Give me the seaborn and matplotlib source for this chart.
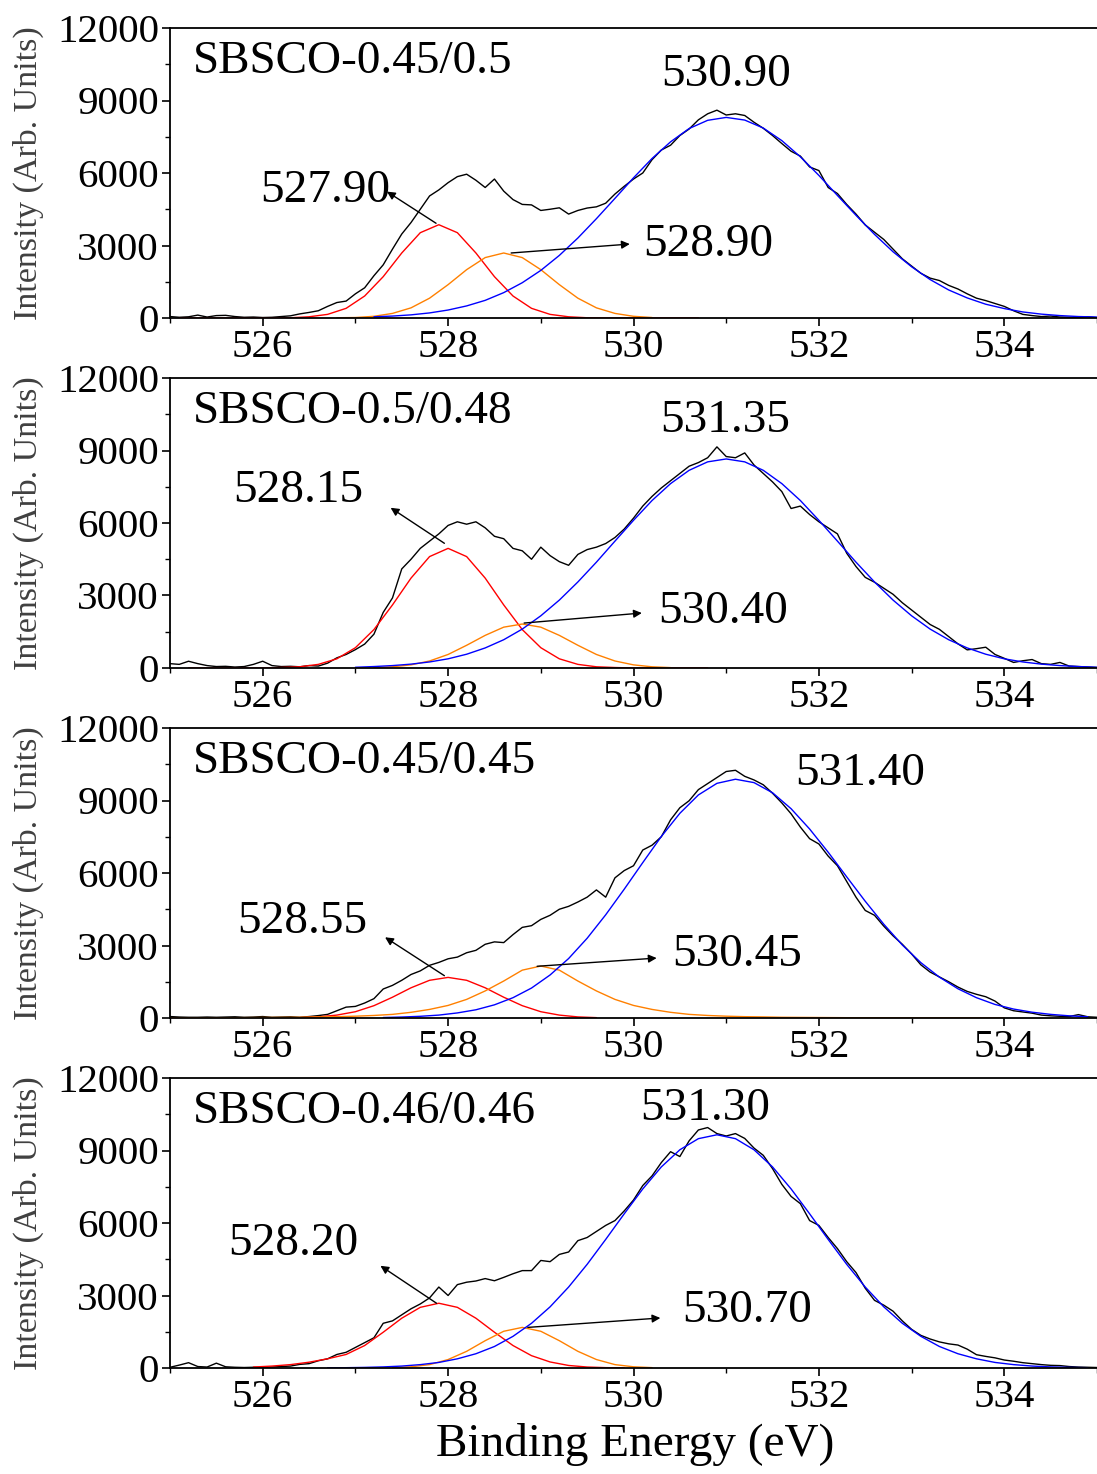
import matplotlib
matplotlib.use('Agg')
import matplotlib.pyplot as plt
import numpy as np
import seaborn as sns
from matplotlib.ticker import MultipleLocator

sns.set_theme(style='ticks')
plt.rcParams['font.family'] = ['Liberation Serif', 'DejaVu Serif']
plt.rcParams['text.color'] = 'black'
plt.rcParams['xtick.color'] = 'black'
plt.rcParams['ytick.color'] = 'black'

# O 1s spectra, 525.0 ... 535.0 eV every 0.1 eV
energy = np.round(np.arange(525.0, 535.05, 0.1), 1)

raw_1 = [60, 30, 50, 120, 40, 100, 110, 60, 30, 40,
         20, 30, 60, 90, 170, 230, 300, 480, 640, 700,
         1000, 1250, 1750, 2200, 2850, 3475, 3950, 4500, 5050, 5300,
         5600, 5850, 5950, 5700, 5400, 5750, 5250, 4900, 4700, 4680,
         4450, 4500, 4560, 4300, 4450, 4550, 4600, 4750, 5130, 5450,
         5750, 6000, 6550, 6950, 7150, 7550, 7820, 8200, 8450, 8600,
         8400, 8450, 8380, 8100, 7850, 7550, 7220, 6900, 6700, 6250,
         6100, 5400, 5150, 4700, 4300, 3850, 3550, 3250, 2850, 2450,
         2150, 1850, 1650, 1550, 1350, 1200, 1000, 820, 720, 600,
         480, 300, 150, 100, 60, 80, 40, 30, 20, 50,
         10]
raw_2 = [180, 150, 280, 180, 100, 60, 70, 40, 60, 150,
         280, 100, 60, 70, 50, 100, 80, 200, 420, 560,
         760, 990, 1400, 2300, 2900, 4100, 4500, 4950, 5250, 5550,
         5900, 6050, 5950, 6050, 5800, 5450, 5350, 4950, 4850, 4500,
         5000, 4650, 4400, 4250, 4700, 4900, 5000, 5150, 5400, 5750,
         6200, 6700, 7100, 7450, 7750, 8050, 8350, 8500, 8700, 9150,
         8750, 8700, 8900, 8400, 8050, 7700, 7300, 6600, 6700, 6350,
         6050, 5800, 5550, 4750, 4200, 3750, 3550, 3300, 3050, 2700,
         2400, 2100, 1800, 1600, 1300, 1000, 750, 800, 860, 560,
         400, 230, 300, 350, 180, 150, 230, 80, 60, 40,
         20]
raw_3 = [60, 40, 30, 30, 40, 30, 40, 50, 30, 40,
         60, 30, 40, 50, 30, 60, 100, 150, 300, 450,
         480, 620, 800, 1200, 1350, 1560, 1800, 1950, 2180, 2300,
         2450, 2520, 2700, 2800, 3050, 3150, 3120, 3450, 3750, 3820,
         4080, 4250, 4500, 4620, 4800, 5000, 5300, 5000, 5800, 6100,
         6300, 6950, 7150, 7500, 8200, 8700, 8990, 9450, 9700, 9950,
         10200, 10250, 10000, 9850, 9650, 9300, 8900, 8450, 7900, 7420,
         7200, 6700, 6300, 5650, 5000, 4450, 4250, 3800, 3400, 3050,
         2650, 2200, 1900, 1700, 1500, 1280, 1100, 980, 880, 700,
         420, 300, 250, 200, 120, 90, 70, 60, 140, 50,
         30]
raw_4 = [30, 120, 220, 60, 40, 200, 50, 30, 20, 30,
         20, 40, 60, 80, 150, 180, 300, 380, 560, 650,
         850, 1050, 1250, 1850, 1950, 2200, 2450, 2650, 2900, 3350,
         3000, 3450, 3550, 3600, 3700, 3610, 3750, 3900, 4030, 4030,
         4450, 4400, 4700, 4800, 5270, 5400, 5650, 5900, 6100, 6500,
         6950, 7550, 7950, 8500, 8950, 8750, 9400, 9850, 9950, 9700,
         9600, 9700, 9500, 9100, 8800, 8250, 7600, 7100, 6800, 6100,
         5900, 5400, 4940, 4400, 3950, 3300, 2800, 2600, 2350, 1950,
         1600, 1350, 1200, 1080, 1000, 950, 780, 550, 480, 420,
         330, 280, 220, 180, 140, 110, 100, 60, 40, 30,
         20]

# fitted components: first energy, then values every 0.2 eV
red_1_start = 525.1
red_1 = [0, 0, 0, 0, 0, 0, 10, 50, 150, 400, 910, 1710, 2690, 3530, 3860,
         3530, 2690, 1710, 910, 400, 150, 50, 10, 0, 0, 0, 0, 0, 0]
orange_1_start = 526.8
orange_1 = [10, 20, 70, 190, 420, 820, 1380, 2000, 2500, 2690,
            2500, 2000, 1380, 820, 420, 190, 70, 20]
blue_1_start = 527.2
blue_1 = [50, 80, 130, 210, 330, 500, 730, 1050, 1460, 1970, 2590, 3310, 4110,
          4950, 5800, 6600, 7290, 7840, 8180, 8300, 8190, 7860, 7340, 6670,
          5900, 5070, 4250, 3460, 2740, 2120, 1590, 1160, 830, 570, 390, 250,
          160, 100, 60, 40]

red_2_start = 525.2
red_2 = [0, 0, 0, 0, 0, 20, 50, 150, 380, 840, 1590, 2610, 3720, 4610, 4950,
         4610, 3720, 2610, 1590, 840, 380, 150, 50, 20, 0, 0, 0, 0, 0]
orange_2_start = 527.2
orange_2 = [16, 50, 130, 290, 560, 940, 1350, 1690, 1820,
            1690, 1350, 940, 560, 290, 130, 50, 16]
blue_2_start = 527.0
blue_2 = [30, 60, 100, 160, 250, 380, 570, 830, 1170, 1610, 2160, 2810, 3560,
          4380, 5250, 6110, 6930, 7630, 8180, 8530, 8650, 8530, 8180, 7630,
          6930, 6110, 5250, 4380, 3560, 2810, 2160, 1610, 1170, 830, 570, 380,
          250, 160, 100, 60, 30]

red_3_start = 526.4
red_3 = [15, 45, 120, 260, 510, 860, 1250, 1560, 1680,
         1560, 1250, 860, 510, 260, 120, 45, 15]
orange_3_start = 525.0
orange_3 = [5, 5, 5, 10, 15, 20, 25, 30, 45, 55, 75, 105, 150, 235, 355, 520,
            770, 1120, 1530, 1980, 2150, 1980, 1530, 1120, 770, 520, 355, 235,
            150, 105, 75, 55, 45, 30, 25, 20, 15, 10, 10, 5, 5, 5, 5, 5, 5, 5]
blue_3_start = 527.3
blue_3 = [20, 40, 70, 120, 210, 340, 545, 840, 1240, 1780, 2460, 3300, 4270,
          5330, 6430, 7510, 8470, 9230, 9710, 9880, 9740, 9320, 8660, 7820,
          6860, 5840, 4830, 3880, 3020, 2290, 1690, 1210, 840, 560, 370, 240,
          150, 90, 50]

red_4_start = 525.9
red_4 = [40, 80, 140, 240, 380, 560, 930, 1480, 2060, 2510, 2680,
         2510, 2060, 1480, 930, 510, 250, 105, 40, 15, 5]
orange_4_start = 527.4
orange_4 = [15, 50, 140, 350, 690, 1130, 1520, 1680,
            1520, 1130, 690, 350, 140, 50, 15]
blue_4_start = 526.7
blue_4 = [7, 13, 25, 45, 80, 140, 230, 380, 590, 890, 1310, 1850, 2530, 3350,
          4290, 5320, 6380, 7410, 8320, 9030, 9490, 9650, 9490, 9030, 8320,
          7410, 6380, 5320, 4290, 3350, 2530, 1850, 1310, 890, 590, 380, 230,
          140, 80, 45, 25, 13]

samples = ['SBSCO-0.45/0.5', 'SBSCO-0.5/0.48', 'SBSCO-0.45/0.45', 'SBSCO-0.46/0.46']

main_text = ['530.90', '531.35', '531.40', '531.30']
main_xy = [(531.0, 10060), (530.99, 10220), (532.45, 10120), (530.77, 10720)]

low_text = ['527.90', '528.15', '528.55', '528.20']
low_xy = [(526.67, 5250), (526.38, 7330), (526.43, 4000), (526.33, 5130)]
low_tail = [(527.87, 3920), (527.96, 5160), (527.96, 1750), (527.875, 2680)]
low_head = [(527.34, 5230), (527.38, 6630), (527.32, 3340), (527.27, 4230)]

mid_text = ['528.90', '530.40', '530.45', '530.70']
mid_xy = [(530.81, 3020), (530.97, 2320), (531.12, 2610), (531.23, 2380)]
mid_tail = [(528.68, 2690), (528.82, 1860), (528.96, 2140), (528.86, 1680)]
mid_head = [(529.96, 3060), (530.09, 2275), (530.25, 2480), (530.29, 2070)]

raws = [raw_1, raw_2, raw_3, raw_4]
fits = [
    [(red_1_start, red_1, '#ff0000'), (orange_1_start, orange_1, '#ff8000'), (blue_1_start, blue_1, '#0000ff')],
    [(red_2_start, red_2, '#ff0000'), (orange_2_start, orange_2, '#ff8000'), (blue_2_start, blue_2, '#0000ff')],
    [(red_3_start, red_3, '#ff0000'), (orange_3_start, orange_3, '#ff8000'), (blue_3_start, blue_3, '#0000ff')],
    [(red_4_start, red_4, '#ff0000'), (orange_4_start, orange_4, '#ff8000'), (blue_4_start, blue_4, '#0000ff')],
]

fig = plt.figure(figsize=(10.97, 14.74), dpi=100)
fig.patch.set_facecolor('white')

W, H = 1097.0, 1474.0
for i in range(4):
    bottom_px = 318 + 350 * i
    ax = fig.add_axes([170 / W, 1 - bottom_px / H, (W - 170) / W, 290 / H])
    ax.set_facecolor('white')

    sns.lineplot(x=energy, y=raws[i], ax=ax, color='black', linewidth=1.0,
                 sort=False, estimator=None)
    for start, vals, col in fits[i]:
        xs = np.round(start + 0.2 * np.arange(len(vals)), 1)
        sns.lineplot(x=xs, y=vals, ax=ax, color=col, linewidth=1.0,
                     sort=False, estimator=None)

    ax.set_xlim(525, 535)
    ax.set_ylim(0, 12000)
    ax.xaxis.set_major_locator(MultipleLocator(2))
    ax.xaxis.set_minor_locator(MultipleLocator(1))
    ax.yaxis.set_major_locator(MultipleLocator(3000))
    ax.yaxis.set_minor_locator(MultipleLocator(1500))
    ax.tick_params(which='major', direction='out', length=6, width=1.2,
                   labelsize=29.5, pad=2, colors='black')
    ax.tick_params(which='minor', direction='out', length=3.5, width=1.0,
                   colors='black')
    for side in ['left', 'bottom', 'top']:
        ax.spines[side].set_linewidth(1.3)
        ax.spines[side].set_color('black')
    ax.spines['right'].set_visible(False)

    ax.set_xlabel('')
    ax.set_ylabel('Intensity (Arb. Units)', fontsize=24.5, color='#404040',
                  va='center')
    ax.yaxis.set_label_coords(-0.153, 0.5)

    ax.text(525.25, 10600, samples[i], fontsize=34, ha='left', va='center',
            color='black')
    ax.text(main_xy[i][0], main_xy[i][1], main_text[i], fontsize=34,
            ha='center', va='center', color='black')
    ax.text(low_xy[i][0], low_xy[i][1], low_text[i], fontsize=34,
            ha='center', va='center', color='black')
    ax.text(mid_xy[i][0], mid_xy[i][1], mid_text[i], fontsize=34,
            ha='center', va='center', color='black')
    for tail, head in [(low_tail[i], low_head[i]), (mid_tail[i], mid_head[i])]:
        ax.annotate('', xy=head, xytext=tail,
                    arrowprops=dict(arrowstyle='-|>', color='black', lw=1.0,
                                    mutation_scale=12, shrinkA=0, shrinkB=0))

fig.text(635 / W, 1 - 1445 / H, 'Binding Energy (eV)', fontsize=34,
         ha='center', va='center', color='black')

fig.savefig('out.png', dpi=100, facecolor='white')
